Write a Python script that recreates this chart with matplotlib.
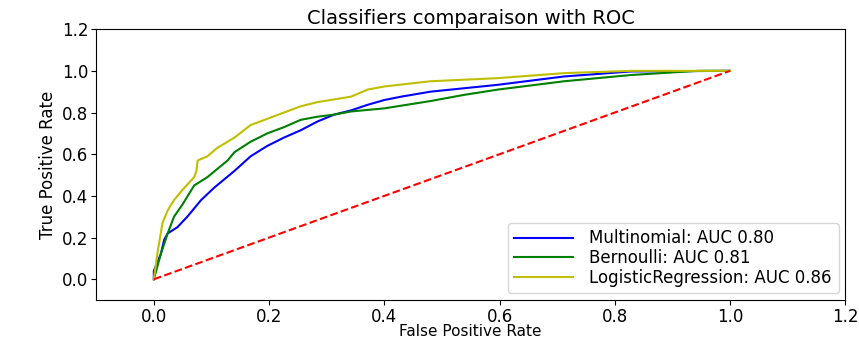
import matplotlib
matplotlib.use("Agg")
import matplotlib.pyplot as plt

# ROC points (fpr, tpr)
multi_fpr = [0.0, 0.0, 0.012, 0.018, 0.024, 0.041, 0.058, 0.082, 0.105, 0.14, 0.168,
             0.197, 0.226, 0.255, 0.284, 0.313, 0.342, 0.371, 0.40, 0.429, 0.48,
             0.597, 0.712, 0.828, 1.0]
multi_tpr = [0.0, 0.04, 0.12, 0.19, 0.22, 0.25, 0.30, 0.38, 0.44, 0.52, 0.59,
             0.64, 0.68, 0.715, 0.757, 0.79, 0.81, 0.837, 0.86, 0.876, 0.90,
             0.933, 0.973, 0.997, 1.0]

bern_fpr = [0.0, 0.012, 0.024, 0.035, 0.05, 0.07, 0.093, 0.128, 0.14, 0.168, 0.197,
            0.226, 0.255, 0.284, 0.313, 0.342, 0.40, 0.48, 0.539, 0.597, 0.712,
            0.828, 0.944, 1.0]
bern_tpr = [0.0, 0.12, 0.22, 0.30, 0.36, 0.45, 0.49, 0.57, 0.61, 0.66, 0.70,
            0.73, 0.765, 0.78, 0.79, 0.805, 0.82, 0.855, 0.885, 0.91, 0.95,
            0.98, 1.0, 1.0]

logr_fpr = [0.0, 0.006, 0.015, 0.024, 0.035, 0.05, 0.07, 0.074, 0.076, 0.093, 0.11,
            0.14, 0.168, 0.197, 0.226, 0.255, 0.284, 0.342, 0.371, 0.40, 0.48,
            0.597, 0.712, 0.828, 1.0]
logr_tpr = [0.0, 0.12, 0.27, 0.33, 0.38, 0.43, 0.49, 0.52, 0.57, 0.59, 0.63,
            0.68, 0.74, 0.77, 0.80, 0.83, 0.85, 0.876, 0.91, 0.925, 0.95,
            0.965, 0.989, 1.0, 1.0]

auc_multi = 0.80
auc_bern = 0.81
auc_logr = 0.86

fig = plt.figure(figsize=(8.59, 3.43), dpi=100)
ax = fig.add_axes([0.112, 0.125, 0.872, 0.79])

ax.plot(multi_fpr, multi_tpr, 'b', label='Multinomial: AUC %0.2f' % auc_multi)
ax.plot(bern_fpr, bern_tpr, 'g', label='Bernoulli: AUC %0.2f' % auc_bern)
ax.plot(logr_fpr, logr_tpr, 'y', label='LogisticRegression: AUC %0.2f' % auc_logr)
ax.plot([0, 1], [0, 1], 'r--')

ax.set_xlim([-0.1, 1.2])
ax.set_ylim([-0.1, 1.2])
ax.set_xticks([0.0, 0.2, 0.4, 0.6, 0.8, 1.0, 1.2])
ax.set_yticks([0.0, 0.2, 0.4, 0.6, 0.8, 1.0, 1.2])
ax.tick_params(labelsize=12, pad=2)

ax.set_title('Classifiers comparaison with ROC', fontsize=14, pad=4)
ax.set_xlabel('False Positive Rate', fontsize=11, labelpad=-1)
ax.set_ylabel('True Positive Rate', fontsize=12)

ax.legend(loc='lower right', fontsize=12, labelspacing=0.1, handlelength=3.5,
          handletextpad=1.0, borderaxespad=0.4)

fig.savefig('out.png', dpi=100)
